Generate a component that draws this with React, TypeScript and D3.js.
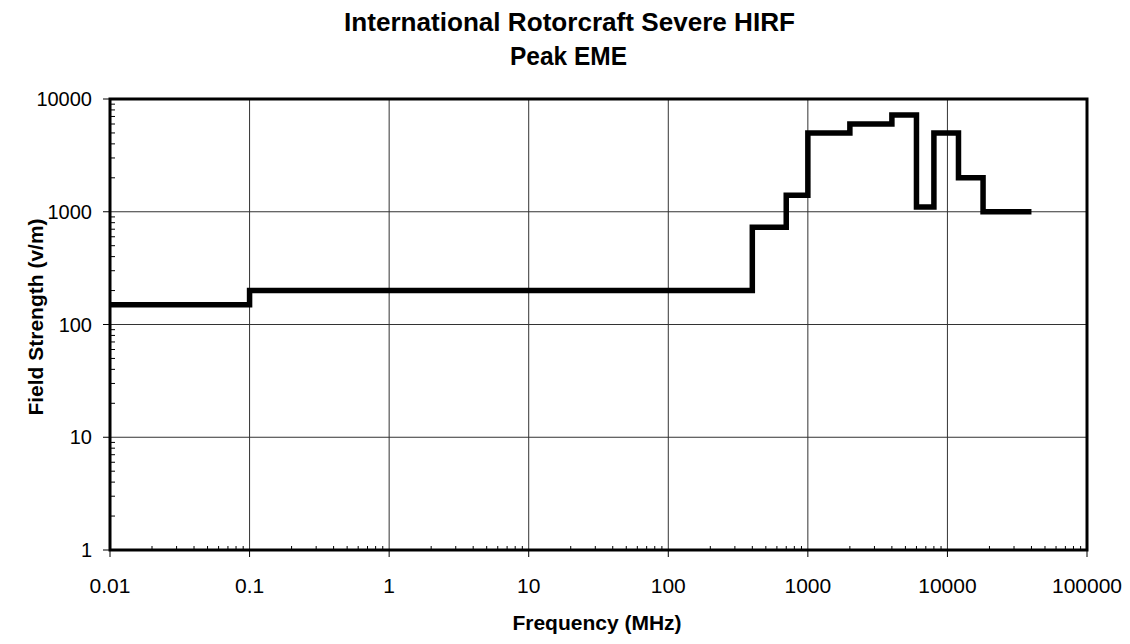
import React from "react";
import * as d3 from "d3";

const freqStarts = [0.01, 0.1, 400, 700, 1000, 2000, 4000, 6000, 8000, 12000, 18000, 40000];
const fieldStrength = [150, 200, 730, 1400, 5000, 6000, 7200, 1100, 5000, 2000, 1000, 1000];
const xTickValues = [0.01, 0.1, 1, 10, 100, 1000, 10000, 100000];
const xTickLabels = ["0.01", "0.1", "1", "10", "100", "1000", "10000", "100000"];
const yTickValues = [1, 10, 100, 1000, 10000];
const yTickLabels = ["1", "10", "100", "1000", "10000"];
const titleLines = ["International Rotorcraft Severe HIRF", "Peak EME"];
const xTitle = "Frequency (MHz)";
const yTitle = "Field Strength (v/m)";

const W = 1130;
const H = 644;
const L = 110, R = 1087, T = 99, B = 550;
const FONT = "'Liberation Sans', Arial, Helvetica, sans-serif";
const titleX = [569.5, 568.5];
const titleY = [31, 65];
const titleLen = [451, 117];

export default function App() {
  const x = d3.scaleLog().domain([0.01, 100000]).range([L, R]);
  const y = d3.scaleLog().domain([1, 10000]).range([B, T]);

  const pts: [number, number][] = freqStarts.map((f, i) => [f, fieldStrength[i]]);
  const line = d3
    .line<[number, number]>()
    .x((d) => x(d[0]))
    .y((d) => y(d[1]))
    .curve(d3.curveStepAfter);

  const xMinor: number[] = [];
  for (let e = -2; e < 5; e++) for (let m = 2; m <= 9; m++) xMinor.push(m * Math.pow(10, e));
  const yMinor: number[] = [];
  for (let e = 0; e < 4; e++) for (let m = 2; m <= 9; m++) yMinor.push(m * Math.pow(10, e));

  return (
    <svg width={W} height={H} style={{ position: "absolute", left: 0, top: 0, background: "#fff" }} fontFamily={FONT}>
      <rect x={0} y={0} width={W} height={H} fill="#fff" />
      {titleLines.map((t, i) => (
        <text
          key={t}
          x={titleX[i]}
          y={titleY[i]}
          textAnchor="middle"
          fontWeight="bold"
          fontSize={25}
          fill="#000"
          textLength={titleLen[i]}
          lengthAdjust="spacingAndGlyphs"
        >
          {t}
        </text>
      ))}
      {/* gridlines */}
      {xTickValues.slice(1, -1).map((v) => (
        <line key={"gx" + v} x1={x(v)} x2={x(v)} y1={T} y2={B} stroke="#333" strokeWidth={1} />
      ))}
      {yTickValues.slice(1, -1).map((v) => (
        <line key={"gy" + v} x1={L} x2={R} y1={y(v)} y2={y(v)} stroke="#333" strokeWidth={1} />
      ))}
      {/* minor ticks */}
      {xMinor.map((v) => (
        <line key={"mx" + v} x1={x(v)} x2={x(v)} y1={B} y2={B - 4} stroke="#000" strokeWidth={1} />
      ))}
      {yMinor.map((v) => (
        <line key={"my" + v} x1={L} x2={L + 5} y1={y(v)} y2={y(v)} stroke="#000" strokeWidth={1} />
      ))}
      {/* major ticks */}
      {xTickValues.map((v) => (
        <line key={"tx" + v} x1={x(v)} x2={x(v)} y1={B} y2={B + 7} stroke="#000" strokeWidth={1} />
      ))}
      {yTickValues.map((v) => (
        <line key={"ty" + v} x1={L - 7} x2={L} y1={y(v)} y2={y(v)} stroke="#000" strokeWidth={1} />
      ))}
      {/* frame */}
      <rect x={L} y={T} width={R - L} height={B - T} fill="none" stroke="#000" strokeWidth={3} />
      {/* data */}
      <path d={line(pts) || ""} fill="none" stroke="#000" strokeWidth={5.5} strokeLinejoin="miter" />
      {/* tick labels */}
      {xTickValues.map((v, i) => (
        <text key={"lx" + v} x={x(v)} y={593} textAnchor="middle" fontSize={21} fill="#000">
          {xTickLabels[i]}
        </text>
      ))}
      {yTickValues.map((v, i) => (
        <text key={"ly" + v} x={92} y={y(v)} dy="0.36em" textAnchor="end" fontSize={20} fill="#000">
          {yTickLabels[i]}
        </text>
      ))}
      <text x={597} y={630} textAnchor="middle" fontWeight="bold" fontSize={21} fill="#000">
        {xTitle}
      </text>
      <text
        transform={`translate(43, ${317}) rotate(-90)`}
        textAnchor="middle"
        fontWeight="bold"
        fontSize={21}
        fill="#000"
      >
        {yTitle}
      </text>
    </svg>
  );
}
